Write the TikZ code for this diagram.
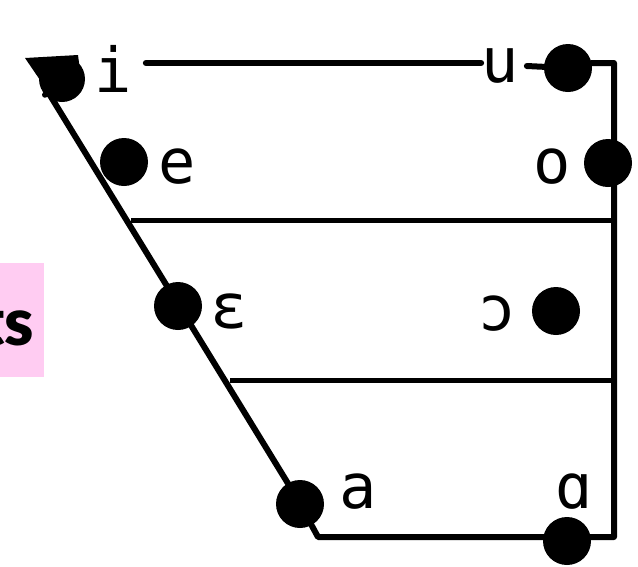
\documentclass[tikz,border=0pt]{standalone}
\usepackage{fontspec}
\newfontfamily\ipafont{DejaVu Sans Mono}
\newfontfamily\tagfont{Lato Black}
\definecolor{tagpink}{HTML}{FFCCF2}
\tikzset{
  chart/.style={line width=6pt, line cap=round, line join=round},
  vdot/.style={circle, fill=black, inner sep=0pt, minimum size=48pt},
  vlabel/.style={inner sep=0pt, font=\ipafont\fontsize{62}{62}\selectfont, anchor=base},
}
\begin{document}
\begin{tikzpicture}[x=1pt, y=-1pt]
  \useasboundingbox (0,0) rectangle (638,566);
  \clip (0,0) rectangle (638,566);

  % side tag, partly outside the frame
  \fill[tagpink] (-10,263) rectangle (44,377);
  \node[inner sep=0pt, anchor=base east, font=\tagfont\fontsize{66}{66}\selectfont] (tag) at (34,345) {ts};

  % corner points of the chart outline
  \coordinate (topR)  at (614,63);
  \coordinate (botR)  at (614,537);
  \coordinate (botL)  at (318,537);
  \coordinate (slantT) at (48,92);
  \coordinate (slantB) at (292,490);
  \coordinate (midL)  at (131,220);
  \coordinate (midR)  at (614,220);
  \coordinate (lowL)  at (230,380);
  \coordinate (lowR)  at (614,380);

  % vowel points
  \node[vdot] (dotu) at (568,68) {};
  \node[vdot] (doto) at (608,163) {};
  \node[vdot] (dote) at (124,162) {};
  \node[vdot] (doteps) at (178,306) {};
  \node[vdot] (dotopen) at (556,311) {};
  \node[vdot] (dota) at (300,504) {};
  \node[vdot] (dotalpha) at (567,541) {};
  % the corner point at i, a wedge with a rounded bottom
  \node[vdot, minimum size=46pt] (doti) at (62,79) {};
  \fill (25,58) -- (78,55) -- (80,70) -- (50,100) -- (40,80) -- cycle;

  % vowel labels
  \node[vlabel] (li) at (113,92) {i};
  \node[vlabel] (lu) at (500,82) {u};
  \node[vlabel] (le) at (177,183) {e};
  \node[vlabel] (lo) at (552,183) {o};
  \node[vlabel] (leps) at (229,328) {ɛ};
  \node[vlabel] (lopen) at (497,330) {ɔ};
  \node[vlabel] (la) at (358,508) {a};
  \node[vlabel] (lalpha) at (574,508) {ɑ};

  % outline
  \draw[chart] (li.east |- 0,63) ++(14,0) -- (lu.west |- 0,63);
  \draw[chart] (lu.east |- 0,66) ++(8,0) -- (dotu);
  \draw[chart] (dotu) -- (dotu.east |- topR) -- (topR) -- (botR) -- (botL) -- (dota);
  \draw[chart] (doti) -- (slantT) -- (slantB);

  % height divisions
  \draw[line width=5pt] (midL) -- (midR);
  \draw[line width=5pt] (lowL) -- (lowR);
\end{tikzpicture}
\end{document}
